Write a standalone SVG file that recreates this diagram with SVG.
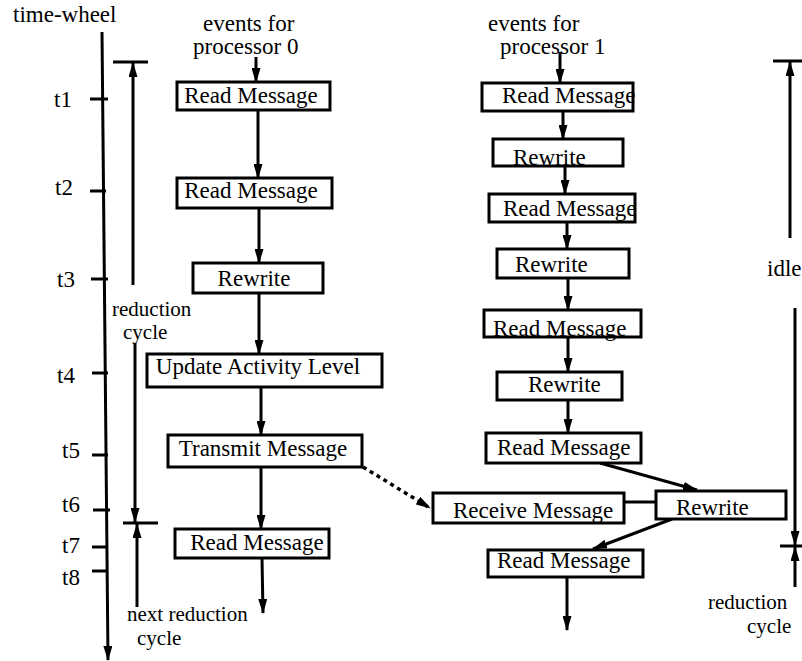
<svg xmlns="http://www.w3.org/2000/svg" width="802" height="661" viewBox="0 0 802 661">
  <style>
    text { font-family: "Liberation Serif", "Times New Roman", serif; font-size: 23px; fill: #000; }
    .mid { text-anchor: middle; }
    .sm { font-size: 21px; }
    .box { fill: #fff; stroke: #000; stroke-width: 3; }
    .ln { fill: none; stroke: #000; stroke-width: 3; }
    .arr { fill: none; stroke: #000; stroke-width: 3; marker-end: url(#head); }
    .dot { fill: none; stroke: #000; stroke-width: 3.5; stroke-dasharray: 4 4; marker-end: url(#head); }
  </style>
  <defs>
    <marker id="head" viewBox="0 0 15 9" markerWidth="15" markerHeight="9" refX="14" refY="4.5" orient="auto" markerUnits="userSpaceOnUse">
      <path d="M0,0 L15,4.5 L0,9 z" fill="#000"/>
    </marker>
  </defs>
  <rect width="802" height="661" fill="#fff"/>

  <!-- time axis with its ticks -->
  <g id="time-wheel">
    <text x="13" y="22">time-wheel</text>
    <line class="arr" x1="102" y1="32" x2="108" y2="660"/>
    <path class="ln" d="M90,99 H108 M90,191 H106 M91,279 H108 M92,373 H108 M92,455 H108 M93,510 H110 M92,547 H108 M92,571 H108"/>
    <text x="54" y="107">t1</text>
    <text x="55" y="195">t2</text>
    <text x="57" y="287">t3</text>
    <text x="57" y="383">t4</text>
    <text x="62" y="458">t5</text>
    <text x="62" y="512">t6</text>
    <text x="62" y="553">t7</text>
    <text x="62" y="585">t8</text>
  </g>

  <!-- reduction-cycle brackets -->
  <g id="cycle-left">
    <path class="ln" d="M113,62 H148 M123,523 H158"/>
    <line class="arr" x1="133" y1="285" x2="133" y2="63"/>
    <line class="arr" x1="135" y1="343" x2="135" y2="522"/>
    <line class="arr" x1="137" y1="607" x2="137" y2="524"/>
    <text class="sm" x="112" y="316">reduction</text>
    <text class="sm" x="123" y="339">cycle</text>
    <text class="sm" x="127" y="621">next reduction</text>
    <text class="sm" x="137" y="645">cycle</text>
  </g>
  <g id="cycle-right">
    <path class="ln" d="M773,61 H802 M780,546 H802"/>
    <line class="arr" x1="790" y1="238" x2="790" y2="62"/>
    <line class="arr" x1="795" y1="308" x2="795" y2="545"/>
    <line class="arr" x1="795" y1="587" x2="795" y2="547"/>
    <text x="767" y="276">idle</text>
    <text class="sm" x="708" y="609">reduction</text>
    <text class="sm" x="747" y="633">cycle</text>
  </g>

  <!-- column headers -->
  <g id="head0">
    <text x="203" y="31">events for</text>
    <text x="193" y="54">processor 0</text>
  </g>
  <g id="head1">
    <text x="488" y="31">events for</text>
    <text x="500" y="54">processor 1</text>
  </g>

  <!-- connectors -->
  <g id="connectors">
    <line class="arr" x1="256" y1="57" x2="256" y2="82"/>
    <line class="arr" x1="258" y1="110" x2="258" y2="178"/>
    <line class="arr" x1="259" y1="208" x2="259" y2="263"/>
    <line class="arr" x1="259" y1="293" x2="259" y2="354"/>
    <line class="arr" x1="261" y1="387" x2="261" y2="435"/>
    <line class="arr" x1="261" y1="467" x2="261" y2="529"/>
    <line class="arr" x1="262" y1="558" x2="263" y2="613"/>

    <line class="arr" x1="560" y1="52" x2="560" y2="83"/>
    <line class="arr" x1="563" y1="111" x2="563" y2="139"/>
    <line class="arr" x1="565" y1="166" x2="565" y2="194"/>
    <line class="arr" x1="567" y1="222" x2="567" y2="249"/>
    <line class="arr" x1="568" y1="278" x2="568" y2="310"/>
    <line class="arr" x1="568" y1="337" x2="568" y2="372"/>
    <line class="arr" x1="568" y1="400" x2="568" y2="433"/>
    <line class="arr" x1="600" y1="463" x2="697" y2="490"/>
    <line class="ln" x1="624" y1="502" x2="656" y2="502"/>
    <line class="arr" x1="672" y1="519" x2="593" y2="549"/>
    <line class="arr" x1="567" y1="577" x2="567" y2="630"/>

    <line class="dot" x1="363" y1="467" x2="430" y2="508"/>
  </g>

  <!-- processor 0 events -->
  <g id="p0-read1"><rect class="box" x="177" y="82" width="153" height="28"/><text class="mid" x="251" y="103">Read Message</text></g>
  <g id="p0-read2"><rect class="box" x="177" y="178" width="155" height="30"/><text class="mid" x="251" y="198">Read Message</text></g>
  <g id="p0-rewrite"><rect class="box" x="193" y="263" width="130" height="30"/><text class="mid" x="254" y="286">Rewrite</text></g>
  <g id="p0-update"><rect class="box" x="147" y="354" width="235" height="33"/><text class="mid" x="258" y="374">Update Activity Level</text></g>
  <g id="p0-transmit"><rect class="box" x="168" y="435" width="194" height="32"/><text class="mid" x="263" y="456">Transmit Message</text></g>
  <g id="p0-read3"><rect class="box" x="175" y="529" width="154" height="29"/><text class="mid" x="257" y="550">Read Message</text></g>

  <!-- processor 1 events -->
  <g id="p1-read1"><rect class="box" x="482" y="83" width="151" height="28"/><text x="502" y="103">Read Message</text></g>
  <g id="p1-rewrite1"><rect class="box" x="493" y="139" width="130" height="27"/><text x="513" y="165">Rewrite</text></g>
  <g id="p1-read2"><rect class="box" x="489" y="194" width="146" height="28"/><text x="503" y="216">Read Message</text></g>
  <g id="p1-rewrite2"><rect class="box" x="497" y="249" width="132" height="29"/><text x="515" y="272">Rewrite</text></g>
  <g id="p1-read3"><rect class="box" x="484" y="310" width="157" height="27"/><text x="493" y="336">Read Message</text></g>
  <g id="p1-rewrite3"><rect class="box" x="497" y="372" width="125" height="28"/><text x="528" y="392">Rewrite</text></g>
  <g id="p1-read4"><rect class="box" x="486" y="433" width="155" height="30"/><text x="497" y="455">Read Message</text></g>
  <g id="p1-receive"><rect class="box" x="433" y="493" width="191" height="30"/><text x="453" y="518">Receive Message</text></g>
  <g id="p1-rewrite4"><rect class="box" x="656" y="491" width="130" height="28"/><text x="676" y="515">Rewrite</text></g>
  <g id="p1-read5"><rect class="box" x="488" y="550" width="155" height="27"/><text x="497" y="568">Read Message</text></g>
</svg>
